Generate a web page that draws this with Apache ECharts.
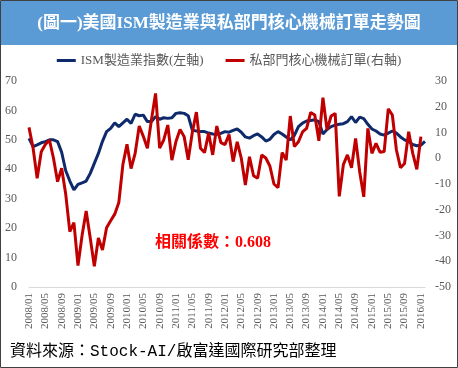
<!DOCTYPE html>
<html><head><meta charset="utf-8">
<script src="https://cdn.jsdelivr.net/npm/echarts@6/dist/echarts.min.js"></script>
<style>html,body{margin:0;padding:0;background:#fff}#c{width:458px;height:368px}</style>
</head><body><div id="c"></div>
<script>
// month categories 2008/01 .. 2016/02
const categories = [];
for (let y = 2008; y <= 2016; y++) {
  for (let m = 1; m <= 12; m++) {
    if (y === 2016 && m > 2) break;
    categories.push(y + '/' + String(m).padStart(2, '0'));
  }
}
// ISM manufacturing index (left axis)
const ismIndex = [
  50.5, 47.7, 48.3, 49.0, 49.4, 50.0, 50.0, 49.4, 45.8, 39.5, 36.0, 33.0,
  34.9, 35.4, 36.0, 38.6, 42.0, 45.4, 49.5, 52.8, 53.9, 55.8, 54.5, 55.8,
  57.0, 55.6, 58.7, 58.2, 58.4, 56.2, 56.2, 57.9, 57.0, 57.5, 57.3, 57.5,
  59.0, 59.2, 59.0, 58.2, 53.3, 53.0, 52.8, 52.8, 52.3, 52.0, 51.9, 52.2,
  52.8, 52.6, 53.2, 53.7, 52.6, 51.0, 50.6, 51.4, 52.0, 51.0, 49.6, 50.2,
  51.8, 52.8, 52.0, 51.0, 50.0, 51.5, 54.5, 55.7, 56.4, 56.6, 56.8, 56.2,
  52.0, 53.5, 54.5, 55.0, 55.3, 55.5, 56.2, 57.9, 55.9, 57.7, 57.2, 55.3,
  53.7, 53.0, 52.0, 51.6, 52.3, 53.0, 52.3, 51.0, 50.0, 49.4, 48.4, 48.0,
  48.2, 49.5
];
// private core capital goods orders YoY % (right axis)
const coreOrders = [
  12.0, 4.0, -7.8, 2.5, 5.3, 7.1, 0.0, -9.1, -3.9, -14.0, -28.5, -25.0,
  -41.7, -30.0, -20.5, -31.0, -42.0, -31.0, -35.6, -27.0, -24.3, -21.7, -17.2, -2.4,
  5.4, -4.0, 1.9, 12.5, 8.5, 3.9, 15.0, 25.2, 3.9, 7.1, 12.9, -0.7,
  6.5, 11.2, 8.4, -0.6, 10.0, 17.9, 3.9, 2.2, 9.8, 1.3, 12.5, 6.1,
  5.3, 9.2, -1.3, 6.4, 0.0, -10.4, 0.6, -6.8, -7.8, 1.3, 0.1, -3.0,
  -10.0, -11.4, 2.2, -0.7, 16.4, 4.5, 6.4, 10.2, 11.6, 17.8, 16.8, 6.8,
  23.5, 11.0, 16.4, 17.4, -14.8, -2.5, 1.3, -3.7, 7.7, -5.2, -15.0, 11.6,
  1.9, 5.8, 2.3, 2.6, 19.2, 16.8, 3.2, -3.7, -2.0, 10.3, 1.9, -4.3,
  8.4, null
];
const leftTicks = [0, 10, 20, 30, 40, 50, 60, 70];
const rightTicks = [-50, -40, -30, -20, -10, 0, 10, 20, 30];
const titleText = '(圖一)美國ISM製造業與私部門核心機械訂單走勢圖';
const seriesNames = ['ISM製造業指數(左軸)', '私部門核心機械訂單(右軸)'];
const noteText = '相關係數：0.608';
const sourceText = '資料來源：Stock-AI/啟富達國際研究部整理';

const numFont = '"Liberation Serif","Noto Sans CJK TC"';
const chart = echarts.init(document.getElementById('c'), null, {renderer: 'canvas'});
chart.setOption({
  animation: false,
  backgroundColor: '#ffffff',
  grid: {left: 29, right: 33, top: 81, bottom: 81, containLabel: false},
  legend: {
    data: seriesNames,
    left: 'center', top: 54, padding: 0,
    icon: 'rect', itemWidth: 19, itemHeight: 3, itemGap: 22,
    textStyle: {fontSize: 13, color: '#595959', fontFamily: numFont}
  },
  xAxis: {
    type: 'category', data: categories, boundaryGap: false,
    axisLine: {lineStyle: {color: '#D9D9D9', width: 1}},
    axisTick: {show: false},
    splitLine: {show: false},
    axisLabel: {interval: 3, rotate: 90, margin: 6, fontSize: 11, color: '#595959', fontFamily: numFont}
  },
  yAxis: [
    {type: 'value', position: 'left', min: leftTicks[0], max: leftTicks[leftTicks.length - 1], interval: 10,
     axisLine: {show: false}, axisTick: {show: false}, splitLine: {show: false},
     axisLabel: {margin: 12, fontSize: 12, color: '#595959', fontFamily: numFont}},
    {type: 'value', position: 'right', min: rightTicks[0], max: rightTicks[rightTicks.length - 1], interval: 10,
     axisLine: {show: false}, axisTick: {show: false}, splitLine: {show: false},
     axisLabel: {margin: 10, fontSize: 12, color: '#595959', fontFamily: numFont}}
  ],
  series: [
    {name: seriesNames[0], type: 'line', yAxisIndex: 0, data: ismIndex, symbol: 'none',
     lineStyle: {width: 3, color: '#0E2A6B'}, itemStyle: {color: '#0E2A6B'}},
    {name: seriesNames[1], type: 'line', yAxisIndex: 1, data: coreOrders, symbol: 'none',
     lineStyle: {width: 3, color: '#C00000'}, itemStyle: {color: '#C00000'}}
  ],
  graphic: [
    {type: 'rect', z: -1, shape: {x: 1, y: 1, width: 456, height: 44}, style: {fill: '#5B9BD5'}},
    {type: 'text', x: 229, y: 24, style: {text: titleText, fill: '#ffffff', align: 'center', verticalAlign: 'middle',
      font: 'bold 17px ' + numFont}},
    {type: 'text', x: 155, y: 243, z: 10, style: {text: noteText, fill: '#FF0000', verticalAlign: 'middle',
      font: 'bold 16px ' + numFont, backgroundColor: '#ffffff'}},
    {type: 'text', x: 10, y: 352, style: {text: sourceText, fill: '#000000', verticalAlign: 'middle',
      font: '16px "Liberation Mono","Noto Sans CJK TC"'}},
    {type: 'rect', z: 20, shape: {x: 0.5, y: 0.5, width: 457, height: 367}, style: {fill: 'none', stroke: '#404040', lineWidth: 1}}
  ]
});
</script>
</body></html>
